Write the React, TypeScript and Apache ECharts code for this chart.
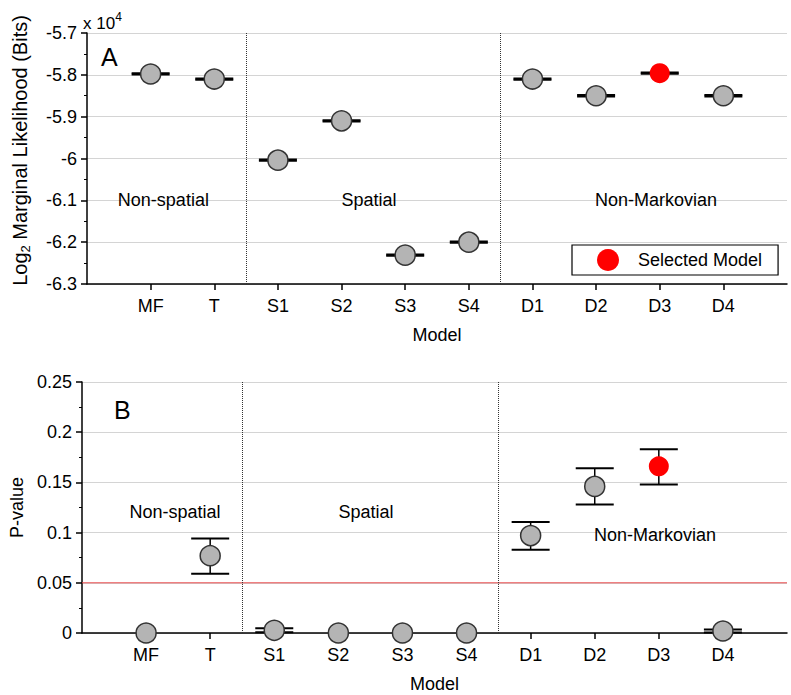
import { useEffect, useRef } from 'react';
import * as echarts from 'echarts';

// ---- data ----
const categories = ['MF', 'T', 'S1', 'S2', 'S3', 'S4', 'D1', 'D2', 'D3', 'D4'];
// Panel A: log2 marginal likelihood (x 10^4)
const likelihood = [-5.798, -5.81, -6.004, -5.91, -6.231, -6.2, -5.81, -5.85, -5.796, -5.85];
const likelihoodErr = [0.0015, 0.0015, 0.0015, 0.0015, 0.0015, 0.0015, 0.0015, 0.0015, 0.0015, 0.0015];
// Panel B: p-values with error bounds
const pValue = [0, 0.077, 0.0027, 0, 0, 0, 0.097, 0.146, 0.166, 0.002];
const pLow = [0, 0.059, 0.0007, 0, 0, 0, 0.083, 0.128, 0.148, 0.0005];
const pHigh = [0, 0.094, 0.0047, 0, 0, 0, 0.1105, 0.164, 0.183, 0.0035];
const selectedIndex = 8;
const threshold = 0.05;
const xRange = [0, 11];
const groupBoundaries = [2.5, 6.5];
const groupLabels = ['Non-spatial', 'Spatial', 'Non-Markovian'];
const groupLabelXA = [1.2, 4.43, 8.94];
const groupLabelYA = [-6.1, -6.1, -6.1];
const groupLabelXB = [1.45, 4.43, 8.94];
const groupLabelYB = [0.121, 0.121, 0.098];
const xTickValues = [1, 2, 3, 4, 5, 6, 7, 8, 9, 10];

const FONT = '"Liberation Sans", Arial, Helvetica, sans-serif';

const errorBarRender = (params: any, api: any) => {
  const x = api.value(0);
  const lo = api.value(1);
  const hi = api.value(2);
  const top = api.coord([x, hi]);
  const bot = api.coord([x, lo]);
  const hw = 19;
  const capStyle = { stroke: '#000', lineWidth: 2 };
  return {
    type: 'group',
    children: [
      { type: 'line', shape: { x1: top[0], y1: top[1], x2: bot[0], y2: bot[1] }, style: { stroke: '#000', lineWidth: 1.5 } },
      { type: 'line', shape: { x1: top[0] - hw, y1: top[1], x2: top[0] + hw, y2: top[1] }, style: capStyle },
      { type: 'line', shape: { x1: bot[0] - hw, y1: bot[1], x2: bot[0] + hw, y2: bot[1] }, style: capStyle },
    ],
  };
};

const xAxisFor = (gridIndex: number) => ({
  type: 'value',
  gridIndex,
  min: xRange[0],
  max: xRange[1],
  interval: 1,
  name: 'Model',
  nameLocation: 'middle',
  nameGap: 42,
  nameTextStyle: { fontSize: 18, color: '#000', fontFamily: FONT },
  axisLine: { show: true, lineStyle: { color: '#000', width: 1.5 } },
  axisTick: { show: true, customValues: xTickValues, length: 6, lineStyle: { color: '#000', width: 1.5 } },
  axisLabel: {
    show: true,
    customValues: xTickValues,
    margin: 13,
    fontSize: 18,
    color: '#000',
    fontFamily: FONT,
    formatter: (v: number) => categories[Math.round(v) - 1] ?? '',
  },
  splitLine: { show: false },
});

const gridLineStyle = { color: '#d4d4d4', width: 1 };

export default function App() {
  const ref = useRef<HTMLDivElement>(null);
  useEffect(() => {
    if (!ref.current) return;
    const chart = echarts.init(ref.current, undefined, { renderer: 'svg' });

    const grayA = likelihood
      .map((v, i) => ({ i, v }))
      .filter((d) => d.i !== selectedIndex)
      .map((d) => [d.i + 1, d.v]);
    const grayB = pValue
      .map((v, i) => ({ i, v }))
      .filter((d) => d.i !== selectedIndex)
      .map((d) => [d.i + 1, d.v]);
    const errA = likelihood.map((v, i) => [i + 1, v - likelihoodErr[i], v + likelihoodErr[i]]);
    const errB = pValue
      .map((v, i) => [i + 1, pLow[i], pHigh[i]])
      .filter((d) => d[2] > d[1]);

    const grayStyle = { color: '#b4b4b4', borderColor: '#333', borderWidth: 1.5, opacity: 1 };
    const redStyle = { color: '#ff0000', borderWidth: 0, opacity: 1 };
    const sepLine = {
      silent: true,
      symbol: 'none',
      label: { show: false },
      lineStyle: { color: '#333', type: 'dotted', width: 1, opacity: 1 },
      data: groupBoundaries.map((b) => ({ xAxis: b })),
    };
    const textLabel = {
      show: true,
      position: 'inside',
      formatter: '{b}',
      fontSize: 18,
      color: '#000',
      opacity: 1,
      fontFamily: FONT,
    };

    chart.setOption({
      animation: false,
      textStyle: { fontFamily: FONT },
      grid: [
        { left: 82, top: 33, width: 705, height: 251 },
        { left: 82, top: 382, width: 705, height: 251 },
      ],
      legend: {
        data: [{ name: 'Selected Model', icon: 'circle' }],
        left: 572,
        top: 245,
        orient: 'horizontal',
        itemWidth: 50,
        itemHeight: 22,
        padding: [4, 16, 4, 25],
        borderColor: '#000',
        borderWidth: 1.2,
        backgroundColor: '#fff',
        selectedMode: false,
        textStyle: { fontSize: 18, color: '#000', fontFamily: FONT },
      },
      xAxis: [xAxisFor(0), xAxisFor(1)],
      yAxis: [
        {
          type: 'value',
          gridIndex: 0,
          min: -6.3,
          max: -5.7,
          interval: 0.1,
          name: 'Log{sub|2} Marginal Likelihood (Bits)',
          nameLocation: 'middle',
          nameGap: 55,
          nameRotate: 90,
          nameTextStyle: {
            fontSize: 20,
            color: '#000',
            fontFamily: FONT,
            lineHeight: 24,
            padding: [0, 0, 0, 16],
            rich: { sub: { fontSize: 13, lineHeight: 13, verticalAlign: 'bottom', fontFamily: FONT, color: '#000' } },
          },
          axisLine: { show: true, lineStyle: { color: '#000', width: 1.5 } },
          axisTick: { show: true, length: 6, lineStyle: { color: '#000', width: 1.5 } },
          minorTick: { show: true, splitNumber: 2, length: 3, lineStyle: { color: '#000', width: 1 } },
          axisLabel: {
            margin: 10,
            fontSize: 18,
            color: '#000',
            fontFamily: FONT,
            formatter: (v: number) => String(Math.round(v * 10) / 10),
          },
          splitLine: { show: true, lineStyle: gridLineStyle },
        },
        {
          type: 'value',
          gridIndex: 1,
          min: 0,
          max: 0.25,
          interval: 0.05,
          name: 'P-value',
          nameLocation: 'middle',
          nameGap: 56,
          nameRotate: 90,
          nameTextStyle: { fontSize: 18, color: '#000', fontFamily: FONT },
          axisLine: { show: true, lineStyle: { color: '#000', width: 1.5 } },
          axisTick: { show: true, length: 6, lineStyle: { color: '#000', width: 1.5 } },
          minorTick: { show: true, splitNumber: 2, length: 3, lineStyle: { color: '#000', width: 1 } },
          axisLabel: {
            margin: 10,
            fontSize: 18,
            color: '#000',
            fontFamily: FONT,
            formatter: (v: number) => String(Math.round(v * 100) / 100),
          },
          splitLine: { show: true, lineStyle: gridLineStyle },
        },
      ],
      graphic: [
        {
          type: 'text',
          left: 101,
          top: 44,
          style: { text: 'A', fontSize: 25, fill: '#000', fontFamily: FONT },
        },
        {
          type: 'text',
          left: 114,
          top: 397,
          style: { text: 'B', fontSize: 25, fill: '#000', fontFamily: FONT },
        },
        {
          type: 'text',
          left: 83,
          top: 11,
          style: {
            text: 'x 10{sup|4}',
            fontSize: 17,
            fill: '#000',
            fontFamily: FONT,
            lineHeight: 24,
            rich: { sup: { fontSize: 12, lineHeight: 12, verticalAlign: 'top', fontFamily: FONT, fill: '#000' } },
          },
        },
      ],
      series: [
        {
          type: 'custom',
          xAxisIndex: 0,
          yAxisIndex: 0,
          renderItem: errorBarRender,
          data: errA,
          z: 2,
          silent: true,
        },
        {
          type: 'scatter',
          name: 'gray A',
          xAxisIndex: 0,
          yAxisIndex: 0,
          symbolSize: 20,
          itemStyle: grayStyle,
          data: grayA,
          z: 3,
          clip: false,
          markLine: sepLine,
        },
        {
          type: 'scatter',
          name: 'Selected Model',
          xAxisIndex: 0,
          yAxisIndex: 0,
          symbolSize: 20,
          itemStyle: redStyle,
          data: [[selectedIndex + 1, likelihood[selectedIndex]]],
          z: 3,
          clip: false,
        },
        {
          type: 'scatter',
          name: 'labels A',
          xAxisIndex: 0,
          yAxisIndex: 0,
          symbolSize: 1,
          itemStyle: { color: 'rgba(0,0,0,0)', opacity: 1 },
          label: textLabel,
          silent: true,
          data: groupLabels.map((n, i) => ({ name: n, value: [groupLabelXA[i], groupLabelYA[i]] })),
        },
        {
          type: 'line',
          name: 'threshold',
          xAxisIndex: 1,
          yAxisIndex: 1,
          symbol: 'none',
          silent: true,
          z: 1,
          lineStyle: { color: '#e8494a', width: 1, opacity: 1 },
          itemStyle: { color: '#e8494a' },
          data: xRange.map((x) => [x, threshold]),
        },
        {
          type: 'custom',
          xAxisIndex: 1,
          yAxisIndex: 1,
          renderItem: errorBarRender,
          data: errB,
          z: 2,
          silent: true,
        },
        {
          type: 'scatter',
          name: 'gray B',
          xAxisIndex: 1,
          yAxisIndex: 1,
          symbolSize: 20,
          itemStyle: grayStyle,
          data: grayB,
          z: 3,
          clip: false,
          markLine: sepLine,
        },
        {
          type: 'scatter',
          name: 'selected B',
          xAxisIndex: 1,
          yAxisIndex: 1,
          symbolSize: 20,
          itemStyle: redStyle,
          data: [[selectedIndex + 1, pValue[selectedIndex]]],
          z: 3,
          clip: false,
        },
        {
          type: 'scatter',
          name: 'labels B',
          xAxisIndex: 1,
          yAxisIndex: 1,
          symbolSize: 1,
          itemStyle: { color: 'rgba(0,0,0,0)', opacity: 1 },
          label: textLabel,
          silent: true,
          data: groupLabels.map((n, i) => ({ name: n, value: [groupLabelXB[i], groupLabelYB[i]] })),
        },
      ],
    });
    return () => chart.dispose();
  }, []);
  return (
    <div
      ref={ref}
      style={{ position: 'fixed', left: 0, top: 0, width: 791, height: 695, background: '#fff' }}
    />
  );
}
